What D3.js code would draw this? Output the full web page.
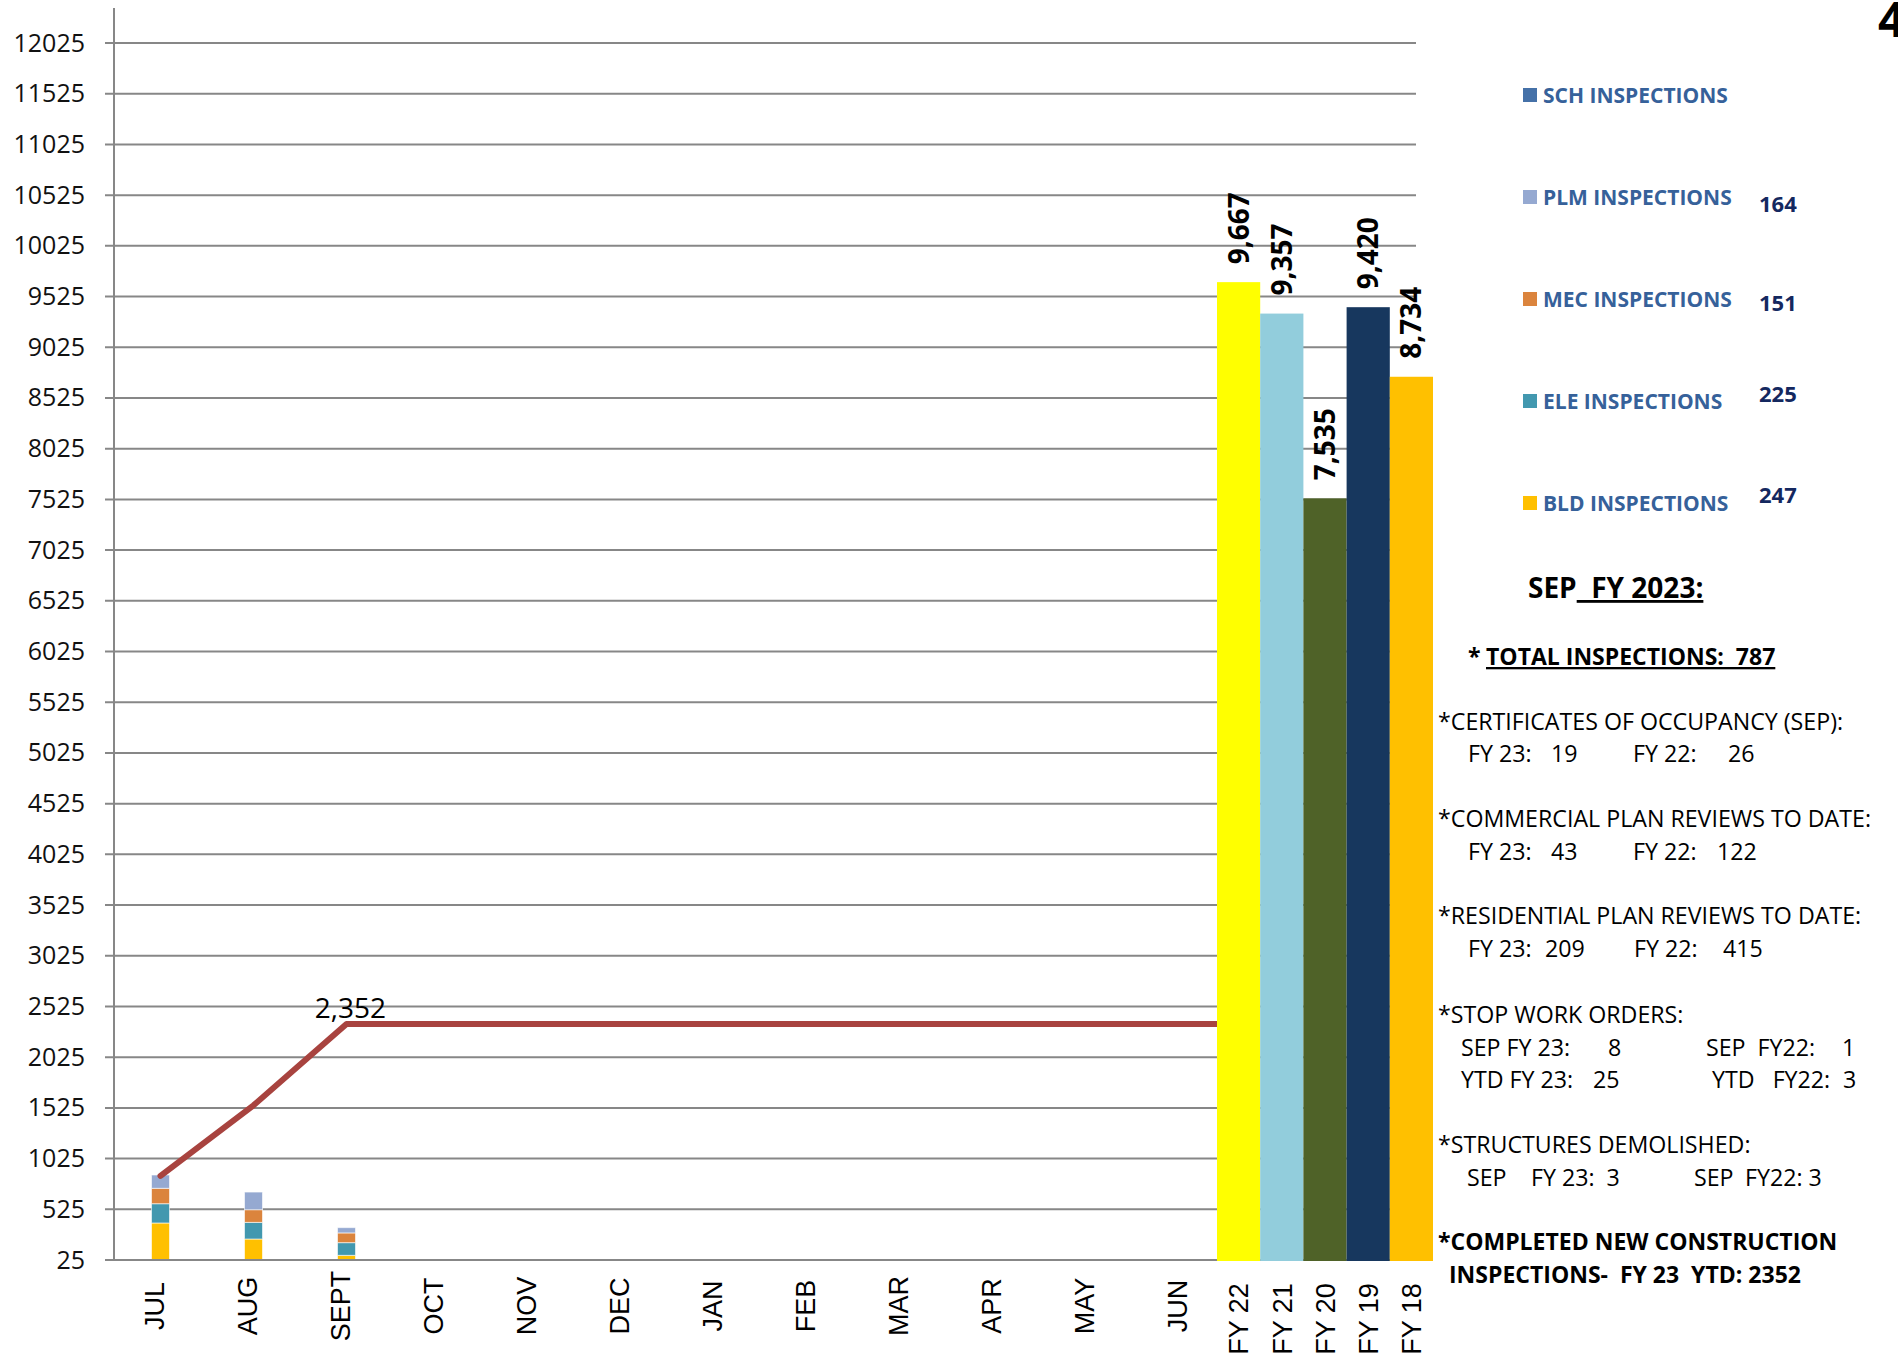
<!DOCTYPE html>
<meta charset="utf-8">
<script src="https://cdn.jsdelivr.net/npm/d3@7"></script>
<style>
body { margin: 0; background: #fff; }
text { font-family: "Open Sans", sans-serif; white-space: pre; }
.grid line { stroke: #878787; stroke-width: 2; }
.ylab text { font-family: "Open Sans", sans-serif; font-size: 25px; fill: #111; }
.cat { font-family: "Liberation Sans", Arial, sans-serif; font-size: 27px; fill: #000; }
.note { font-size: 23.2px; fill: #000; }
.note.b { font-weight: bold; font-size: 23px; }
</style>
<div id="chart"></div>
<script>
//---------------------------- DATA ----------------------------//
const months = ["JUL", "AUG", "SEPT", "OCT", "NOV", "DEC", "JAN", "FEB", "MAR", "APR", "MAY", "JUN"];
const types = ["BLD", "ELE", "MEC", "PLM", "SCH"];
// monthly inspections by type (only JUL-SEPT reported)
const bld = [365, 207, 46];
const ele = [190, 164, 125];
const mec = [152, 125, 96];
const plm = [131, 174, 52];
const sch = [0, 0, 0];
// year to date new construction inspections
const ytd = [855, 1550, 2352, 2352, 2352, 2352, 2352, 2352, 2352, 2352, 2352, 2352];
// previous fiscal year totals
const fyYears = ["FY 22", "FY 21", "FY 20", "FY 19", "FY 18"];
const fyTotals = [9667, 9357, 7535, 9420, 8734];
const yTicks = d3.range(25, 12026, 500);

const legendNames = ["SCH INSPECTIONS", "PLM INSPECTIONS", "MEC INSPECTIONS", "ELE INSPECTIONS", "BLD INSPECTIONS"];
const legendCounts = ["", "164", "151", "225", "247"];

//--------------------------- LAYOUT ---------------------------//
const W = 1898, H = 1357;
const typeColor = { BLD: "#ffc000", ELE: "#4298af", MEC: "#db843d", PLM: "#95a9d1", SCH: "#4571a8" };
const fyColor = ["#ffff00", "#92cddc", "#4f6228", "#17375e", "#ffc000"];

const svg = d3.select("#chart").append("svg")
    .attr("width", W).attr("height", H);

const y = d3.scaleLinear().domain([25, 12025]).range([1260, 43]);
const xm = d3.scaleBand().domain(months).range([114, 1230]);
const xf = d3.scaleBand().domain(fyYears).range([1217, 1433]);
const gridRight = 1416;

// gridlines
svg.append("g").attr("class", "grid")
  .selectAll("line").data(yTicks).enter().append("line")
    .attr("x1", 105).attr("x2", gridRight)
    .attr("y1", d => y(d)).attr("y2", d => y(d));

// y axis labels
svg.append("g").attr("class", "ylab")
    .attr("transform", "translate(114,0)")
    .call(d3.axisLeft(y).tickValues(yTicks).tickSize(0).tickPadding(29).tickFormat(d3.format("d")))
    .call(g => g.select(".domain").remove())
    .call(g => g.attr("font-size", null).attr("font-family", null));

// axis lines
svg.append("line").attr("x1", 114).attr("x2", 114).attr("y1", 8).attr("y2", y(25))
    .attr("stroke", "#878787").attr("stroke-width", 2);

//------------------------ STACKED BARS ------------------------//
const rows = bld.map((v, i) => ({ month: months[i], BLD: v, ELE: ele[i], MEC: mec[i], PLM: plm[i], SCH: sch[i] }));
const series = d3.stack().keys(types)(rows);
const barW = 18;

svg.append("g").selectAll("g").data(series).enter().append("g")
    .attr("fill", d => typeColor[d.key])
  .selectAll("rect").data(d => d).enter().append("rect")
    .attr("x", d => xm(d.data.month) + xm.bandwidth() / 2 - barW / 2)
    .attr("width", barW)
    .attr("y", d => y(25 + d[1]))
    .attr("height", d => y(25 + d[0]) - y(25 + d[1]))
    .attr("stroke", "#fff").attr("stroke-opacity", 0.6).attr("stroke-width", 1);

//---------------------------- LINE ----------------------------//
const pts = months.map((m, i) => [xm(m) + xm.bandwidth() / 2, y(ytd[i])]);
pts.push([xm.range()[1], y(ytd[ytd.length - 1])]);

svg.append("path")
    .attr("d", d3.line()(pts))
    .attr("fill", "none")
    .attr("stroke", "#a8433f")
    .attr("stroke-width", 6)
    .attr("stroke-linecap", "round")
    .attr("stroke-linejoin", "round");

svg.append("text")
    .attr("x", xm("SEPT") + xm.bandwidth() / 2 + 4)
    .attr("y", y(ytd[2]) - 6)
    .attr("text-anchor", "middle")
    .attr("font-size", 28)
    .text(d3.format(",")(ytd[2]));

// x baseline
svg.append("line").attr("x1", 114).attr("x2", gridRight).attr("y1", y(25)).attr("y2", y(25))
    .attr("stroke", "#878787").attr("stroke-width", 2);

//--------------------------- FY BARS ---------------------------//
svg.append("g").selectAll("rect").data(fyYears).enter().append("rect")
    .attr("x", d => xf(d))
    .attr("width", xf.bandwidth())
    .attr("y", (d, i) => y(fyTotals[i]))
    .attr("height", (d, i) => y(25) - y(fyTotals[i]) + 1)
    .attr("fill", (d, i) => fyColor[i]);

svg.append("g").selectAll("text").data(fyYears).enter().append("text")
    .attr("transform", (d, i) => "translate(" + (xf(d) + xf.bandwidth() / 2) + "," + (y(fyTotals[i]) - 18) + ") rotate(-90)")
    .attr("dy", "0.36em")
    .attr("font-size", 28)
    .attr("font-weight", "bold")
    .text((d, i) => d3.format(",")(fyTotals[i]));

//------------------------ CATEGORY LABELS ------------------------//
svg.append("g").selectAll("text").data(months).enter().append("text")
    .attr("class", "cat")
    .attr("transform", d => "translate(" + (xm(d) + xm.bandwidth() / 2 - 6) + ",1306) rotate(-90)")
    .attr("text-anchor", "middle")
    .attr("dy", "0.36em")
    .text(d => d);

svg.append("g").selectAll("text").data(fyYears).enter().append("text")
    .attr("class", "cat")
    .attr("transform", d => "translate(" + (xf(d) + xf.bandwidth() / 2) + ",1319) rotate(-90)")
    .attr("text-anchor", "middle")
    .attr("dy", "0.36em")
    .text(d => d);

//---------------------------- LEGEND ----------------------------//
const legendKeys = ["SCH", "PLM", "MEC", "ELE", "BLD"];
const countDy = [0, 7, 4, -7, -8];
const leg = svg.append("g").selectAll("g").data(legendNames).enter().append("g")
    .attr("transform", (d, i) => "translate(1523," + (95 + i * 102) + ")");
leg.append("rect").attr("x", 0).attr("y", -7).attr("width", 14).attr("height", 14)
    .attr("fill", (d, i) => typeColor[legendKeys[i]]);
leg.append("text").attr("x", 20).attr("dy", "0.36em")
    .attr("font-size", 21).attr("font-weight", "bold").attr("fill", "#36619a")
    .text(d => d);
leg.append("text").attr("x", 236).attr("y", (d, i) => countDy[i]).attr("dy", "0.36em")
    .attr("font-size", 22).attr("font-weight", "bold").attr("fill", "#14285f")
    .text((d, i) => legendCounts[i]);

// page number (cut off at the edge, as in the source page)
svg.append("text").attr("x", 1878).attr("y", 37).attr("font-size", 48).attr("font-weight", "bold").text("4");

//---------------------------- NOTES ----------------------------//
function note(x, yy, str, cls) {
  return svg.append("text").attr("class", "note " + (cls || "")).attr("x", x).attr("y", yy).text(str);
}
const head = svg.append("text").attr("class", "note b").attr("x", 1528).attr("y", 598).style("font-size", "28px");
head.append("tspan").text("SEP");
head.append("tspan").attr("text-decoration", "underline").text("  FY 2023:");

note(1468, 665, "* ", "b");
note(1486, 665, "TOTAL INSPECTIONS:  787", "b").attr("text-decoration", "underline");

note(1438, 730, "*CERTIFICATES OF OCCUPANCY (SEP):");
note(1468, 762, "FY 23:"); note(1551, 762, "19"); note(1633, 762, "FY 22:"); note(1728, 762, "26");
note(1438, 827, "*COMMERCIAL PLAN REVIEWS TO DATE:");
note(1468, 860, "FY 23:"); note(1551, 860, "43"); note(1633, 860, "FY 22:"); note(1717, 860, "122");
note(1438, 924, "*RESIDENTIAL PLAN REVIEWS TO DATE:");
note(1468, 957, "FY 23:"); note(1545, 957, "209"); note(1634, 957, "FY 22:"); note(1723, 957, "415");
note(1438, 1023, "*STOP WORK ORDERS:");
note(1461, 1056, "SEP FY 23:"); note(1608, 1056, "8"); note(1706, 1056, "SEP  FY22:"); note(1842, 1056, "1");
note(1461, 1088, "YTD FY 23:"); note(1593, 1088, "25"); note(1712, 1088, "YTD   FY22:"); note(1843, 1088, "3");
note(1438, 1153, "*STRUCTURES DEMOLISHED:");
note(1467, 1186, "SEP"); note(1531, 1186, "FY 23:  3"); note(1694, 1186, "SEP"); note(1745, 1186, "FY22: 3");
note(1438, 1250, "*COMPLETED NEW CONSTRUCTION", "b");
note(1449, 1283, "INSPECTIONS-  FY 23  YTD: 2352", "b");
</script>
